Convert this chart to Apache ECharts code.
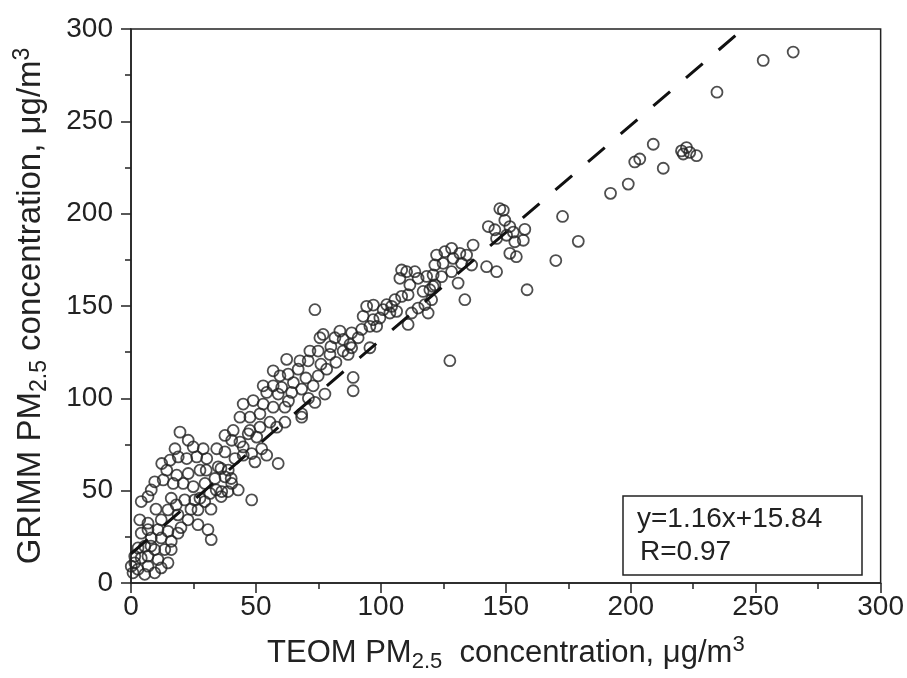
<!DOCTYPE html>
<html>
<head>
<meta charset="utf-8">
<script src="https://cdn.jsdelivr.net/npm/echarts@6/dist/echarts.min.js"></script>
<style>
  html, body { margin: 0; padding: 0; background: #fff; }
  #chart { width: 907px; height: 678px; }
</style>
</head>
<body>
<div id="chart"></div>
<script>
// TEOM (x) vs GRIMM (y) PM2.5
var obsPoints = [
  [265,287.5],[253,283],[234.5,265.8],[209,237.6],[201.6,228],[203.6,229.6],[213,224.6],
  [220.3,234],[222.3,235.8],[223.6,233.2],[226.3,231.4],[221,232.3],[199,216],[191.9,211],
  [172.7,198.5],[179,185],[170,174.6],[158.5,158.8],
  [147.6,202.7],[149,201.8],[149.6,196.4],[143,193],[145.6,191.3],[146.3,186.6],[151.6,193],
  [153,190],[157.6,191.5],[157,185.6],[153.6,184.8],[151.6,178.5],[154.2,176.7],[150.3,188.3],
  [133.6,153.4],[127.6,120.4],
  [136.9,183],[134.3,177.6],[131.6,178.5],[128.3,181.2],[125.6,179.4],[122.3,177.6],[128.9,175.8],
  [124.9,173.1],[121.6,172.2],[128.3,168.6],[124.3,165.9],[120.9,166.8],[130.9,162.4],[120.9,160.6],
  [142.3,171.3],[146.3,168.6],[136.3,172.2],[132.3,173.1],[120.3,153.4],
  [118.3,166],[114.9,165],[113.6,168.6],[110.3,168.6],[108.3,169.5],[107.6,165],[111.6,161.4],
  [110.9,156.1],[108.3,155.2],[105.6,153.4],[104.3,149.8],[106.3,147.1],[103.6,146.2],[100.9,148],
  [99.6,143.5],[96.9,142.6],[94.3,149.8],[92.9,144.4],[95.6,139],[92.3,137.3],[90.9,132.8],
  [88.3,135.5],[87.6,129.2],[84.9,125.6],[81.6,132.8],[114.9,148.9],[117.6,150.7],[118.9,146.2],
  [116.9,157.9],[119.6,158.8],[121.6,161.4],[110.9,140],[112.3,146.2],[98.3,139],[95.6,127.4],
  [97,150.5],[102.3,150.7],
  [73.6,148],[76.9,134.6],[75.6,132.8],[79.6,123.8],[74.9,125.6],[71.6,125.6],[70.9,120.3],
  [67.6,120.3],[66.9,115.8],[62.3,121.1],[62.9,113.1],[59.6,112.2],[56.9,114.9],[52.9,106.8],
  [56.9,106.8],[60.3,105.9],[64.3,103.2],[68.3,105],[72.9,106.8],[74.9,112.2],[78.3,115.8],
  [73.6,97.8],[68.3,91.6],[61.6,95.2],[56.9,95.2],[52.9,96.9],[48.9,98.8],[44.9,96.9],
  [43.6,89.8],[47.6,89.8],[51.6,91.6],[55.6,87.1],[88.3,127.4],[88.9,111.3],[88.9,104.1],
  [77.6,102.3],[84.9,131.9],[86.9,123.8],[83.6,136.4],
  [58.9,102.3],[54.3,103.2],[51.6,84.4],[58.3,84.4],
  [65,108.5],[70,111],[76,118.5],[80,128],[82,119.5],[63,98.5],[71,100],
  [40.9,82.6],[37.6,79.9],[40.3,77.3],[43.6,76.3],[46.9,80.8],[50.3,79],[44.9,69.2],[48.3,70.1],
  [52.3,72.7],[54.3,69.2],[58.9,64.7],[49.6,65.6],[41.6,67.4],[37.6,71],[34.3,72.7],[28.9,72.7],
  [24.9,73.7],[19.6,81.7],[22.9,77.3],[17.6,72.7],[18.9,68.3],[15.6,66.5],[22.3,67.4],[26.3,68.3],
  [30.3,67.4],[27.6,61.1],[22.9,59.3],[18.3,58.4],[14.3,61.1],[12.9,55.8],[16.9,53.9],[20.9,53.9],
  [24.9,52.2],[29.6,53.9],[33.6,56.6],[37.6,57.5],[40.3,53.9],[42.9,50.4],[36.3,49.5],[31.6,48.5],
  [27.6,45.9],[48.3,45],[38.9,61.1],[34.9,62.9],[12.3,64.7],
  [47.6,82.6],[61.6,87.1],[68.3,89.8],[44.9,73.7],
  [30.1,61.1],[40.1,56.6],[34.1,50.4],[36,62],[32,40],[24,40],[20,30],[10,40],[8,20],
  [9.5,54.8],[8.1,50.4],[6.8,46.8],[4.1,44.1],[25.5,45],[21.5,45],[18.1,42.3],[16.1,45.9],
  [29.5,44.1],[26.8,39.6],[22.8,34.2],[18.8,36.9],[14.8,39.6],[12.1,34.2],[6.8,32.4],[3.5,34.2],
  [10.8,28.9],[6.8,28.9],[4.1,27],[14.8,28],[18.8,27],[16.1,22.6],[12.1,24.4],[8.1,24.4],
  [5.5,19.9],[2.8,19],[9.5,18.1],[13.5,18.1],[16.1,18.1],[6.8,14.5],[4.1,13.6],[1.5,10.9],
  [10.8,12.7],[14.8,10.9],[12.1,8.2],[6.8,9.1],[2.8,7.4],[0.8,5.5],[5.5,4.7],[9.5,5.5],
  [1.5,14.5],[0.1,9.1],[32.1,23.5],[30.8,28.9],[26.8,31.6],[36.1,46.8],[38.8,49.5]
];

var fitSlope = 1.16;
var fitIntercept = 15.84;
var fitText = ['y=1.16x+15.84', 'R=0.97'];

var axisMin = 0;
var axisMax = 300;
var majorStep = 50;

// fitted line, drawn up to where it leaves the top of the plot
var fitLine = [
  [axisMin, fitIntercept],
  [(axisMax - fitIntercept) / fitSlope, axisMax]
];

var myChart = echarts.init(document.getElementById('chart'));

var font = 'Liberation Sans, Arial, sans-serif';
var ink = '#222';

function richName(size) {
  return {
    sub: { fontSize: size, fontFamily: font, color: ink, padding: [18, 0, 0, 0] },
    sup: { fontSize: size, fontFamily: font, color: ink, padding: [0, 0, 16, 0] }
  };
}

function axisCommon() {
  return {
    type: 'value',
    min: axisMin,
    max: axisMax,
    interval: majorStep,
    nameLocation: 'middle',
    axisLine: { show: true, onZero: false, lineStyle: { color: ink, width: 1.5 } },
    axisTick: { show: true, inside: false, length: 10, lineStyle: { color: ink, width: 1.5 } },
    minorTick: { show: true, splitNumber: 2, length: 6, lineStyle: { color: ink, width: 1.5 } },
    axisLabel: { fontSize: 28, fontFamily: font, color: ink },
    splitLine: { show: false }
  };
}

var xAxis = axisCommon();
xAxis.name = 'TEOM PM{sub|2.5}  concentration, μg/m{sup|3}';
xAxis.nameGap = 50;
xAxis.nameTextStyle = { fontSize: 31, fontFamily: font, color: ink, rich: richName(22) };
xAxis.axisLabel.margin = 10;

var yAxis = axisCommon();
yAxis.name = 'GRIMM PM{sub|2.5} concentration, μg/m{sup|3}';
yAxis.nameGap = 80;
yAxis.nameTextStyle = { fontSize: 33, fontFamily: font, color: ink, rich: richName(23) };
yAxis.axisLabel.margin = 18;

var option = {
  backgroundColor: '#fff',
  animation: false,
  grid: {
    left: 131, right: 26, top: 29, bottom: 91,
    show: true, borderColor: ink, borderWidth: 1.5
  },
  xAxis: xAxis,
  yAxis: yAxis,
  series: [
    {
      type: 'scatter',
      data: obsPoints,
      symbol: 'circle',
      symbolSize: 11,
      itemStyle: { color: 'rgba(255,255,255,0)', borderColor: '#222', borderWidth: 1.8 },
      z: 2
    },
    {
      type: 'line',
      data: fitLine,
      symbol: 'none',
      lineStyle: { color: '#111', width: 3, type: [22, 21] },
      z: 3
    }
  ],
  graphic: [
    {
      type: 'rect',
      shape: { x: 623, y: 496, width: 239, height: 79 },
      style: { fill: '#fff', stroke: ink, lineWidth: 1.5 },
      z: 10
    },
    {
      type: 'text',
      left: 637, top: 505,
      style: { text: fitText[0], font: '28px ' + font, fill: ink },
      z: 11
    },
    {
      type: 'text',
      left: 640, top: 538,
      style: { text: fitText[1], font: '28px ' + font, fill: ink },
      z: 11
    }
  ]
};

myChart.setOption(option);
</script>
</body>
</html>
